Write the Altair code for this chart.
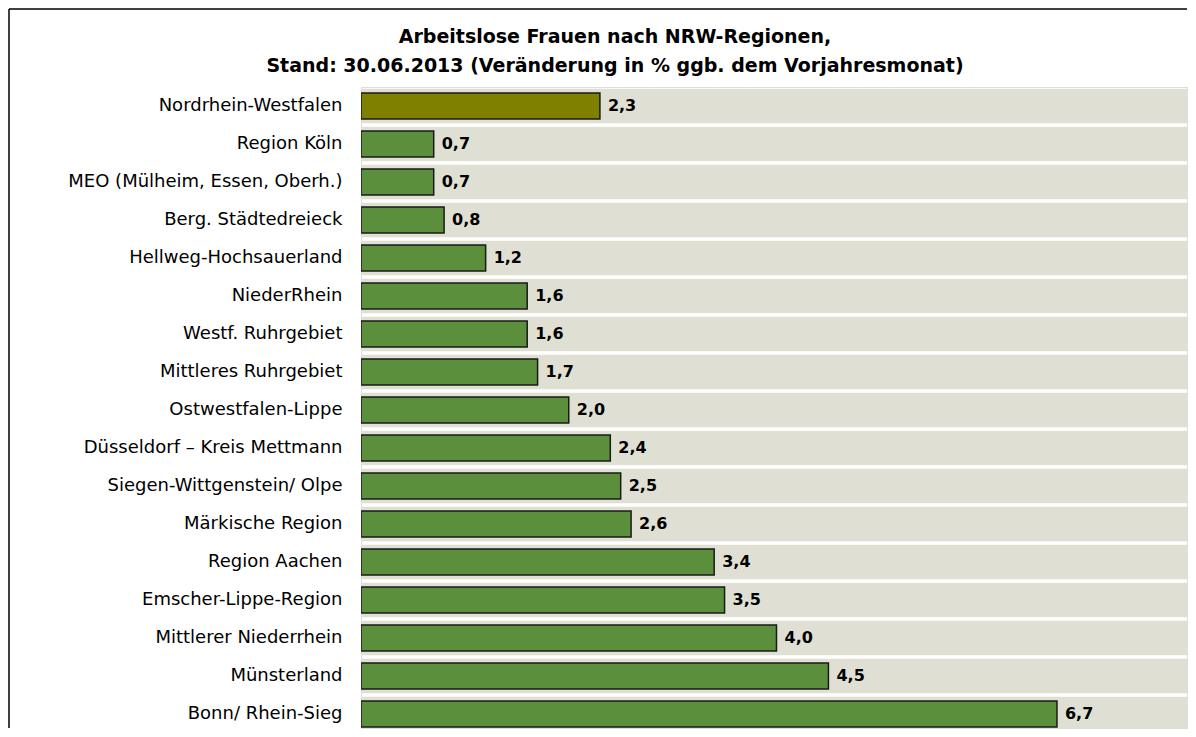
import altair as alt
import pandas as pd

regions = [
    "Nordrhein-Westfalen",
    "Region Köln",
    "MEO (Mülheim, Essen, Oberh.)",
    "Berg. Städtedreieck",
    "Hellweg-Hochsauerland",
    "NiederRhein",
    "Westf. Ruhrgebiet",
    "Mittleres Ruhrgebiet",
    "Ostwestfalen-Lippe",
    "Düsseldorf – Kreis Mettmann",
    "Siegen-Wittgenstein/ Olpe",
    "Märkische Region",
    "Region Aachen",
    "Emscher-Lippe-Region",
    "Mittlerer Niederrhein",
    "Münsterland",
    "Bonn/ Rhein-Sieg",
]
values = [2.3, 0.7, 0.7, 0.8, 1.2, 1.6, 1.6, 1.7, 2.0, 2.4, 2.5, 2.6, 3.4, 3.5, 4.0, 4.5, 6.7]
groups = ["NRW"] + ["Region"] * 16
title_lines = [
    "Arbeitslose Frauen nach NRW-Regionen,",
    "Stand: 30.06.2013 (Veränderung in % ggb. dem Vorjahresmonat)",
]
x_max = 8.0

df = pd.DataFrame({
    "region": regions,
    "value": values,
    "group": groups,
    "label": [f"{v:.1f}".replace(".", ",") for v in values],
    "bg": [x_max] * len(regions),
})

FULL_W = 831
W = 826          # visible plot width (page is cut at the right edge)
STEP = 38
FULL_H = STEP * len(regions)
H = 641          # visible plot height (page is cut just below the last row)

y_enc = alt.Y(
    "region:N",
    sort=regions,
    title=None,
    scale=alt.Scale(paddingInner=0, paddingOuter=0, range=[0, FULL_H]),
    axis=alt.Axis(
        domain=False,
        ticks=False,
        labelPadding=19,
        labelFont="DejaVu Sans",
        labelFontSize=18,
        labelColor="#000000",
        labelLimit=400,
    ),
)
x_scale = alt.Scale(domain=[0, x_max], range=[0, FULL_W], nice=False)

base = alt.Chart(df)

bands = base.mark_bar(
    height=alt.RelativeBandSize(0.91), color="#DFE0D3", clip=True
).encode(
    x=alt.X("bg:Q", scale=x_scale, axis=None),
    y=y_enc,
)

bars = base.mark_bar(
    height=alt.RelativeBandSize(0.68), stroke="#1a1a1a", strokeWidth=1.5, clip=True
).encode(
    x=alt.X("value:Q", scale=x_scale, axis=None),
    y=y_enc,
    color=alt.Color(
        "group:N",
        scale=alt.Scale(domain=["NRW", "Region"], range=["#7F7F00", "#5B8F3C"]),
        legend=None,
    ),
)

texts = base.mark_text(
    align="left", baseline="middle", dx=8, font="DejaVu Sans",
    fontSize=16, fontWeight="bold", color="#000000"
).encode(
    x=alt.X("value:Q", scale=x_scale, axis=None),
    y=y_enc,
    text="label:N",
)

title1 = alt.Chart(pd.DataFrame({"t": [title_lines[0]]})).mark_text(
    align="center", baseline="middle", font="DejaVu Sans", fontSize=19,
    fontWeight="bold", color="#000000"
).encode(x=alt.value(254), y=alt.value(-50), text="t:N")
title2 = alt.Chart(pd.DataFrame({"t": [title_lines[1]]})).mark_text(
    align="center", baseline="middle", font="DejaVu Sans", fontSize=19,
    fontWeight="bold", color="#000000"
).encode(x=alt.value(254), y=alt.value(-21), text="t:N")

frame_top = alt.Chart(pd.DataFrame({"a": [0]})).mark_rule(
    color="#000000", strokeWidth=1.5
).encode(
    x=alt.value(-352), x2=alt.value(W), y=alt.value(-78)
)
frame_left = alt.Chart(pd.DataFrame({"a": [0]})).mark_rule(
    color="#000000", strokeWidth=1.5
).encode(
    x=alt.value(-352), y=alt.value(-78), y2=alt.value(H)
)

chart = alt.layer(bands, bars, texts, title1, title2, frame_top, frame_left).properties(
    width=W,
    height=H,
    padding=0,
).configure_view(stroke=None).configure(background="white")

chart.save("out.html", embed_options={"renderer": "svg", "actions": False})
